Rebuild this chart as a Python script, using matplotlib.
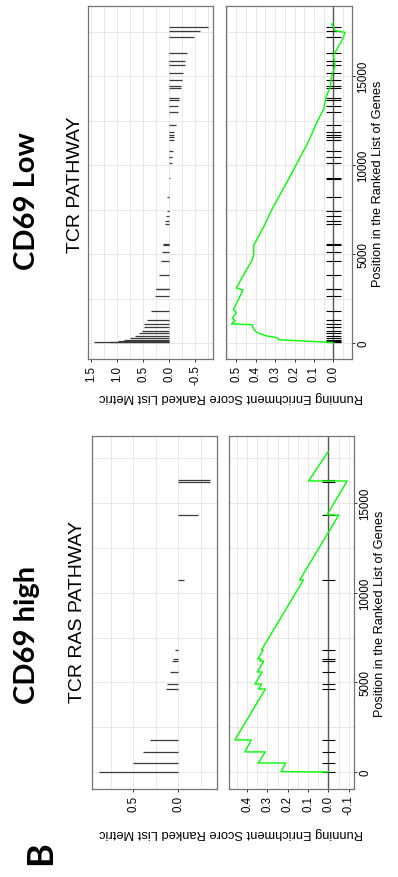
import matplotlib.pyplot as plt
from matplotlib.ticker import FixedLocator, MultipleLocator

plt.rcParams['font.family'] = ['Liberation Sans', 'DejaVu Sans']

# CD69 low - TCR PATHWAY: hit positions in the ranked list and their metric
low_hit_pos = [40, 75, 110, 185, 280, 410, 560, 690, 900, 1050, 1310, 1800,
               2660, 3010, 3060, 3840, 4630, 5100, 5480, 5560, 6690, 6840,
               7120, 7440, 8190, 9220, 9270, 10100, 10440, 10810, 11430,
               11560, 11690, 11840, 12250, 13000, 13340, 13660, 13770, 14310,
               14430, 14780, 15170, 15640, 15830, 16280, 17210, 17530, 17780]
low_hit_metric = [1.45, 1.14, 0.99, 0.87, 0.76, 0.66, 0.58, 0.53, 0.48, 0.48,
                  0.42, 0.36, 0.28, 0.25, 0.25, 0.20, 0.16, 0.13, 0.12, 0.12,
                  0.08, 0.08, 0.06, 0.05, 0.04, 0.01, -0.01, -0.045, -0.06,
                  -0.065, -0.10, -0.10, -0.10, -0.10, -0.13, -0.16, -0.17,
                  -0.19, -0.19, -0.22, -0.22, -0.24, -0.27, -0.31, -0.31,
                  -0.35, -0.48, -0.59, -0.74]
# running enrichment score
low_es_pos = [0, 30, 130, 185, 250, 320, 410, 600, 790, 1030, 1070, 1250,
              1390, 1720, 1870, 2980, 3090, 3780, 4630, 5000, 5500, 6500,
              7440, 9220, 11280, 12400, 13150, 13810, 14370, 15020, 15580,
              16150, 17180, 17460, 17550, 17930, 17980]
low_es_val = [0.0, 0.005, 0.19, 0.283, 0.285, 0.30, 0.35, 0.395, 0.41, 0.42,
              0.525, 0.505, 0.52, 0.50, 0.515, 0.465, 0.50, 0.465, 0.42, 0.41,
              0.41, 0.36, 0.32, 0.23, 0.13, 0.085, 0.05, 0.038, 0.017, 0.008,
              -0.01, 0.0, -0.052, -0.06, -0.01, 0.008, 0.0]

# CD69 high - TCR RAS PATHWAY
high_hit_pos = [20, 500, 1120, 1790, 4630, 4910, 5580, 6190, 6310, 6810,
                10710, 14340, 16200, 16280]
high_hit_metric = [0.88, 0.50, 0.39, 0.31, 0.13, 0.12, 0.09, 0.07, 0.06, 0.03,
                   -0.07, -0.22, -0.36, -0.36]
high_es_pos = [0, 20, 500, 500, 1120, 1120, 1790, 1790, 4630, 4630, 4910, 4910,
               5580, 5580, 6190, 6190, 6310, 6310, 6810, 6810, 10710, 10710,
               14340, 14340, 16240, 16240, 17880]
high_es_val = [0.0, 0.233, 0.21, 0.345, 0.31, 0.41, 0.38, 0.46, 0.31, 0.344,
               0.329, 0.361, 0.326, 0.350, 0.318, 0.337, 0.331, 0.347, 0.321,
               0.329, 0.123, 0.141, -0.051, 0.007, -0.092, 0.098, 0.0]

gene_ticks = [0, 5000, 10000, 15000]

W, H = 398, 878
fig = plt.figure(figsize=(W / 100, H / 100), dpi=100)


def box(x0, y0, x1, y1):
    # pixel box (top-left origin) -> figure fraction rect
    return [x0 / W, 1 - y1 / H, (x1 - x0) / W, (y1 - y0) / H]


def style(ax, xlim, ylim, xticks, xminor):
    # plot is laid out sideways: genes run up the y axis, scores run right-to-left
    ax.set_xlim(*xlim)
    ax.set_ylim(*ylim)
    ax.set_xticks(xticks)
    ax.set_xticklabels([f'{t:.1f}' for t in xticks], rotation=90)
    ax.xaxis.set_minor_locator(MultipleLocator(xminor))
    ax.yaxis.set_major_locator(FixedLocator(gene_ticks))
    ax.yaxis.set_minor_locator(MultipleLocator(2500))
    ax.grid(which='both', color='#e8e8e8', lw=0.7)
    ax.set_axisbelow(True)
    for s in ax.spines.values():
        s.set_color('#737373')
        s.set_linewidth(0.9)
    ax.tick_params(which='major', length=2.5, width=0.7, color='#333333',
                   labelsize=8.3, pad=1.5)
    ax.tick_params(which='minor', length=0)


def panel(ytop, ybot, m_x, es_x, pos, metric, es_pos, es_val,
          mlim, mticks, eslim, esticks, gene_lim, rug):
    axm = fig.add_axes(box(m_x[0], ytop, m_x[1], ybot))
    axm.hlines(pos, 0, metric, color='#3a3a3a', lw=0.9)
    style(axm, mlim, gene_lim, mticks, 0.25)
    axm.tick_params(axis='y', which='both', length=0, labelleft=False)

    axe = fig.add_axes(box(es_x[0], ytop, es_x[1], ybot))
    axe.axvline(0, color='#555555', lw=1.0)
    axe.hlines(pos, -rug, rug, color='black', lw=0.8)
    axe.plot(es_val, es_pos, color='#00ff00', lw=1.0)
    style(axe, eslim, gene_lim, esticks, 0.05)
    axe.yaxis.tick_right()
    axe.set_yticklabels([str(t) for t in gene_ticks], rotation=90, va='center')
    axe.yaxis.set_label_position('right')
    axe.set_ylabel('Position in the Ranked List of Genes', fontsize=9.2,
                   labelpad=2)
    return axm, axe


panel(7, 360, (88, 213), (226, 352), low_hit_pos, low_hit_metric,
      low_es_pos, low_es_val, (1.56, -0.84), [1.5, 1.0, 0.5, 0.0, -0.5],
      (0.553, -0.096), [0.5, 0.4, 0.3, 0.2, 0.1, 0.0], (-900, 18940), 0.04)
panel(437, 790, (92, 217), (229, 354), high_hit_pos, high_hit_metric,
      high_es_pos, high_es_val, (0.956, -0.433), [0.5, 0.0],
      (0.489, -0.126), [0.4, 0.3, 0.2, 0.1, 0.0, -0.1], (-950, 18750), 0.032)

ylab = 'Running Enrichment Score Ranked List Metric'
fig.text(231 / W, 1 - 397 / H, ylab, rotation=180, ha='center', va='center',
         fontsize=9.3)
fig.text(231 / W, 1 - 833 / H, ylab, rotation=180, ha='center', va='center',
         fontsize=9.3)

# panel headings
fig.text(27 / W, 1 - 201 / H, 'CD69 Low', rotation=90, ha='center',
         va='center', fontsize=21, fontweight='bold', family=['Lato'])
fig.text(75 / W, 1 - 185 / H, 'TCR PATHWAY', rotation=90, ha='center',
         va='center', fontsize=14)
fig.text(27 / W, 1 - 635 / H, 'CD69 high', rotation=90, ha='center',
         va='center', fontsize=21, fontweight='bold', family=['Lato'])
fig.text(77 / W, 1 - 612 / H, 'TCR RAS PATHWAY', rotation=90, ha='center',
         va='center', fontsize=14)
fig.text(41 / W, 1 - 853 / H, 'B', rotation=90, ha='center', va='center',
         fontsize=26, fontweight='bold', family=['Lato'])

fig.savefig('out.png', dpi=100)
